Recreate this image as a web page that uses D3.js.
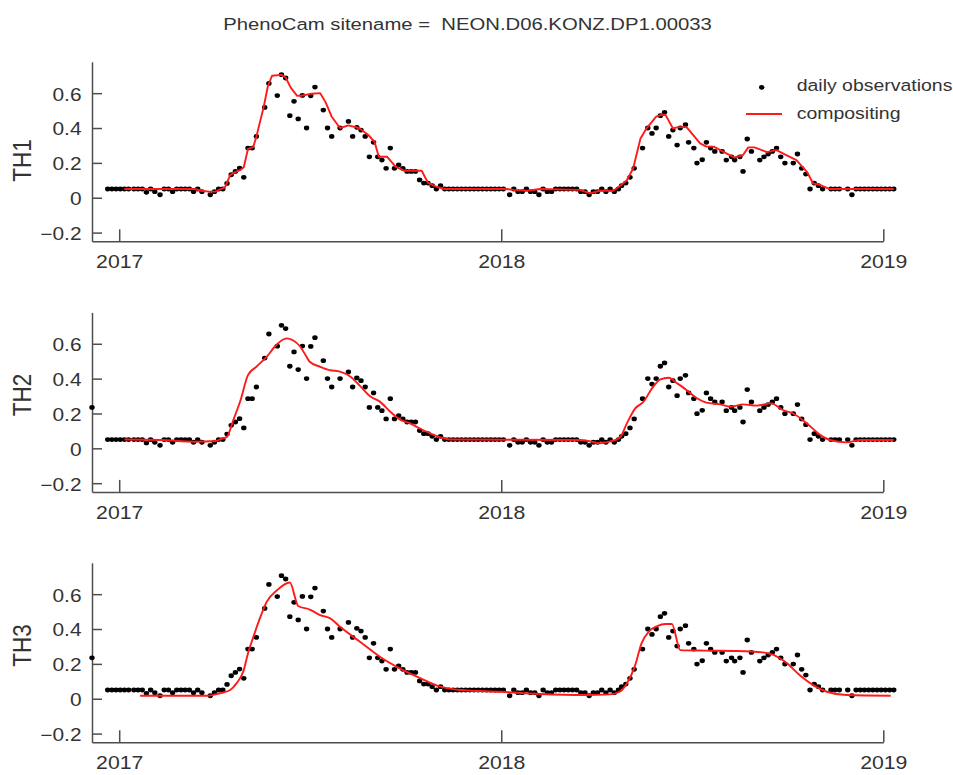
<!DOCTYPE html>
<html>
<head>
<meta charset="utf-8">
<script src="https://cdn.jsdelivr.net/npm/d3@7"></script>
<style>
  body { margin: 0; background: #fff; }
  svg { display: block; }
  text { font-family: "Liberation Sans", Arial, Helvetica, sans-serif; fill: #333; white-space: pre; }
</style>
</head>
<body>
<svg id="chart" width="953" height="775"></svg>
<script>
// ---- data -------------------------------------------------------------
const siteName = "NEON.D06.KONZ.DP1.00033";
const panelNames = ["TH1", "TH2", "TH3"];
const yTickValues = [-0.2, 0, 0.2, 0.4, 0.6];
const xTickYears = [2017, 2018, 2019];

// observation day (days since 2017-01-01) and greenness value
const obsDay = [
  -11, -7, -3, 1, 5, 9, 14, 18, 22, 26, 30, 34, 39, 43, 47, 51, 55, 59, 63, 67,
  71, 75, 79, 87, 91, 95, 99, 103, 107, 111, 115, 119, 123, 127, 131, 139, 143, 151, 155, 159,
  163, 167, 171, 175, 179, 183, 187, 195, 199, 203, 211, 219, 223, 227, 231, 235, 239, 243, 247, 251,
  255, 259, 263, 267, 271, 275, 279, 283, 287, 291, 295, 299, 303, 307, 311, 315, 319, 323, 327, 331,
  335, 339, 343, 347, 351, 355, 359, 363, 367, 373, 377, 381, 385, 389, 393, 397, 401, 405, 409, 413,
  417, 421, 425, 429, 433, 437, 441, 445, 449, 453, 457, 461, 465, 469, 473, 477, 480, 484, 488, 492,
  500, 505, 509, 513, 517, 521, 525, 529, 533, 536, 541, 544, 549, 552, 557, 561, 565, 569, 576, 580,
  585, 588, 593, 596, 600, 604, 612, 616, 620, 624, 628, 632, 636, 644, 648, 652, 656, 660, 664, 668,
  672, 680, 684, 688, 696, 700, 704, 708, 712, 716, 720, 724, 728, 732, 736, 740
];
const obsValue = [
  0.050, 0.050, 0.050, 0.050, 0.050, 0.050, 0.050, 0.050, 0.050, 0.031, 0.050, 0.035, 0.017, 0.050, 0.050, 0.035, 0.050, 0.050, 0.050, 0.050,
  0.035, 0.050, 0.035, 0.017, 0.035, 0.050, 0.050, 0.082, 0.132, 0.151, 0.170, 0.117, 0.285, 0.285, 0.352, 0.518, 0.656, 0.586, 0.706, 0.687,
  0.471, 0.553, 0.452, 0.587, 0.400, 0.585, 0.635, 0.503, 0.400, 0.352, 0.400, 0.438, 0.352, 0.404, 0.388, 0.352, 0.235, 0.318, 0.235, 0.216,
  0.169, 0.285, 0.169, 0.188, 0.169, 0.151, 0.151, 0.151, 0.102, 0.084, 0.084, 0.069, 0.050, 0.069, 0.050, 0.050, 0.050, 0.050, 0.050, 0.050,
  0.050, 0.050, 0.050, 0.050, 0.050, 0.050, 0.050, 0.050, 0.050, 0.017, 0.050, 0.035, 0.035, 0.050, 0.035, 0.035, 0.017, 0.050, 0.035, 0.035,
  0.050, 0.050, 0.050, 0.050, 0.050, 0.050, 0.035, 0.035, 0.017, 0.035, 0.035, 0.050, 0.035, 0.050, 0.035, 0.050, 0.069, 0.084, 0.117, 0.169,
  0.285, 0.400, 0.369, 0.400, 0.471, 0.490, 0.352, 0.388, 0.302, 0.400, 0.419, 0.318, 0.285, 0.199, 0.218, 0.318, 0.285, 0.266, 0.266, 0.216,
  0.235, 0.216, 0.235, 0.151, 0.337, 0.266, 0.216, 0.235, 0.251, 0.266, 0.285, 0.235, 0.199, 0.199, 0.251, 0.169, 0.136, 0.050, 0.084, 0.069,
  0.050, 0.050, 0.050, 0.050, 0.050, 0.017, 0.050, 0.050, 0.050, 0.050, 0.050, 0.050, 0.050, 0.050, 0.050, 0.050
];
// one early observation shown in the TH2 and TH3 panels
const earlyObsDay = [-26];
const earlyObsValue = [0.235];

// composited series per threshold
const th1Day = [5, 72, 78, 86, 92, 97, 101, 106, 110, 116, 119, 123, 128, 131, 138, 142, 146, 155, 159, 164,
  170, 174, 184, 192, 197, 203, 211, 219, 229, 238, 244, 248, 256, 264, 272, 289, 295, 303, 311, 370,
  377, 390, 402, 440, 450, 459, 472, 479, 485, 491, 498, 504, 513, 518, 522, 529, 534, 542, 555, 561,
  568, 580, 588, 596, 601, 607, 619, 628, 634, 647, 657, 663, 670, 679, 740];
const th1Value = [0.050, 0.050, 0.040, 0.035, 0.035, 0.050, 0.060, 0.130, 0.145, 0.160, 0.175, 0.280, 0.290, 0.350, 0.520, 0.640, 0.700, 0.705, 0.690, 0.630,
  0.585, 0.585, 0.597, 0.600, 0.550, 0.465, 0.400, 0.415, 0.400, 0.360, 0.320, 0.235, 0.235, 0.178, 0.155, 0.155, 0.085, 0.063, 0.050, 0.050,
  0.045, 0.040, 0.050, 0.045, 0.025, 0.040, 0.040, 0.070, 0.100, 0.168, 0.340, 0.400, 0.465, 0.475, 0.475, 0.398, 0.405, 0.405, 0.312, 0.293,
  0.293, 0.255, 0.231, 0.245, 0.289, 0.289, 0.262, 0.273, 0.255, 0.216, 0.149, 0.082, 0.072, 0.050, 0.050];

const th2Day = [5, 40, 72, 92, 98, 103, 109, 116, 123, 131, 141, 150, 160, 166, 173, 178, 182, 192, 201, 211,
  221, 230, 240, 249, 259, 268, 278, 287, 297, 307, 316, 440, 450, 459, 469, 475, 479, 485, 493, 501,
  509, 517, 525, 533, 542, 552, 561, 574, 584, 596, 609, 623, 634, 644, 657, 670, 679, 695, 708, 740];
const th2Value = [0.051, 0.048, 0.038, 0.042, 0.055, 0.067, 0.162, 0.277, 0.420, 0.468, 0.526, 0.593, 0.631, 0.620, 0.583, 0.535, 0.497, 0.468, 0.449, 0.440,
  0.411, 0.358, 0.297, 0.268, 0.210, 0.166, 0.143, 0.115, 0.086, 0.063, 0.051, 0.048, 0.040, 0.029, 0.040, 0.050, 0.067, 0.143, 0.229, 0.268,
  0.344, 0.396, 0.405, 0.373, 0.335, 0.287, 0.262, 0.252, 0.239, 0.252, 0.245, 0.258, 0.220, 0.200, 0.143, 0.076, 0.048, 0.034, 0.048, 0.048];

const th3Day = [20, 84, 96, 106, 112, 119, 123, 128, 135, 141, 151, 163, 171, 182, 192, 202, 211, 230, 249, 268,
  288, 307, 326, 364, 402, 444, 469, 478, 485, 493, 499, 506, 514, 522, 528, 536, 560, 590, 615, 625,
  638, 650, 663, 676, 695, 737];
const th3Value = [0.017, 0.017, 0.031, 0.050, 0.088, 0.164, 0.260, 0.352, 0.471, 0.557, 0.624, 0.667, 0.532, 0.512, 0.480, 0.460, 0.413, 0.327, 0.241, 0.174,
  0.117, 0.069, 0.050, 0.040, 0.027, 0.021, 0.025, 0.040, 0.088, 0.193, 0.318, 0.385, 0.417, 0.429, 0.429, 0.279, 0.276, 0.274, 0.266, 0.251,
  0.203, 0.136, 0.078, 0.040, 0.021, 0.017];

const legendLabels = ["daily observations", "compositing"];

// ---- layout -------------------------------------------------------------
const STRETCH = 1.18;          // horizontal widening applied to all text
const RED = "#ff1a1a";
const AXIS = "#4d4d4d";
const DOT_RX = 2.7, DOT_RY = 2.4;
const origin = Date.UTC(2017, 0, 1);
const dayToDate = d => new Date(origin + d * 864e5);

const svg = d3.select("#chart");

const x = d3.scaleUtc()
  .domain([new Date(Date.UTC(2016, 11, 6)), new Date(Date.UTC(2019, 0, 1))])
  .range([92, 883.3]);

const panelTops = [61.8, 312.4, 562.8];
const panelHeight = 179.5;
const labelCenters = [160.5, 395, 645.5];

const curves = [
  { day: th1Day, value: th1Value, curve: d3.curveLinear },
  { day: th2Day, value: th2Value, curve: d3.curveMonotoneX },
  { day: th3Day, value: th3Value, curve: d3.curveMonotoneX }
];

function stretchedText(g, x0, y0, str, size, anchor, rotate) {
  return g.append("text")
    .attr("transform", `translate(${x0},${y0}) scale(${STRETCH},1)` + (rotate ? ` rotate(${rotate})` : ""))
    .attr("text-anchor", anchor)
    .style("font-size", size + "px")
    .text(str);
}

// title
stretchedText(svg, 467.5, 29.5, "PhenoCam sitename =  " + siteName, 17.2, "middle");

panelNames.forEach((name, i) => {
  const top = panelTops[i];
  const y = d3.scaleLinear().domain([-0.25, 0.78]).range([top + panelHeight, top]);
  const g = svg.append("g");

  // y axis, ticks pointing inward
  const yAxis = g.append("g").attr("transform", "translate(92,0)")
    .call(d3.axisLeft(y).tickValues(yTickValues).tickSize(-10).tickSizeOuter(0)
      .tickFormat(v => v === 0 ? "0" : d3.format(".1f")(v)));
  yAxis.selectAll("text")
    .attr("x", null).attr("dy", null)
    .attr("dominant-baseline", "central")
    .attr("transform", `translate(-10.5,0.5) scale(${STRETCH},1)`)
    .style("font-size", "17.7px");

  // x axis, ticks pointing up
  const xAxis = g.append("g").attr("transform", `translate(0,${top + panelHeight})`)
    .call(d3.axisBottom(x)
      .tickValues(xTickYears.map(yr => new Date(Date.UTC(yr, 0, 1))))
      .tickFormat(d3.utcFormat("%Y"))
      .tickSize(-12).tickSizeOuter(0).tickPadding(13));
  xAxis.selectAll("text")
    .attr("y", null).attr("dy", null)
    .attr("transform", `translate(0,26.8) scale(${STRETCH},1)`)
    .style("font-size", "18px");

  [yAxis, xAxis].forEach(a => {
    a.select(".domain").attr("stroke", AXIS).attr("stroke-width", 1.5);
    a.selectAll(".tick line").attr("stroke", AXIS).attr("stroke-width", 1.5);
    a.selectAll("text").attr("fill", "#333").attr("font-family", null);
  });

  // y label
  stretchedText(g, 22, labelCenters[i], name, 22.5, "middle", -90)
    .attr("dominant-baseline", "central");

  // daily observations
  const dots = obsDay.map((d, k) => ({ d, v: obsValue[k] }));
  if (i > 0) earlyObsDay.forEach((d, k) => dots.push({ d, v: earlyObsValue[k] }));
  g.append("g").selectAll("ellipse").data(dots).join("ellipse")
    .attr("cx", p => x(dayToDate(p.d)))
    .attr("cy", p => y(p.v))
    .attr("rx", DOT_RX).attr("ry", DOT_RY)
    .attr("fill", "#000");

  // composited curve
  const c = curves[i];
  const pts = c.day.map((d, k) => [d, c.value[k]]);
  g.append("path")
    .datum(pts)
    .attr("fill", "none")
    .attr("stroke", RED)
    .attr("stroke-width", 1.9)
    .attr("stroke-linejoin", "round")
    .attr("d", d3.line().curve(c.curve).x(p => x(dayToDate(p[0]))).y(p => y(p[1])));
});

// legend (top panel)
const lg = svg.append("g");
lg.append("ellipse").attr("cx", 761.7).attr("cy", 87.3).attr("rx", DOT_RX).attr("ry", DOT_RY).attr("fill", "#000");
lg.append("line").attr("x1", 746).attr("x2", 782).attr("y1", 114).attr("y2", 114)
  .attr("stroke", RED).attr("stroke-width", 1.9);
stretchedText(lg, 796.7, 90.5, legendLabels[0], 16.5, "start");
stretchedText(lg, 796.7, 118.5, legendLabels[1], 16.5, "start");
</script>
</body>
</html>
